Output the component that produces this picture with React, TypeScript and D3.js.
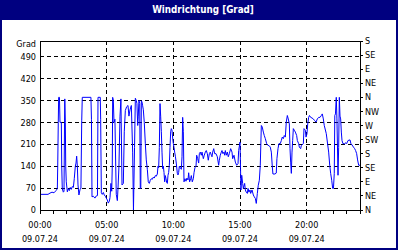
import React from 'react';
import * as d3 from 'd3';

// Wind direction readings: [hour of day, degrees]
const readings: [number, number][] = [
  [0, 50], [0.6, 50], [0.75, 54], [0.9, 57], [1.05, 55], [1.2, 62], [1.3, 68], [1.33, 140], [1.37, 280], [1.4, 360],
  [1.46, 360], [1.5, 280], [1.6, 280], [1.63, 140], [1.67, 68], [1.75, 57], [1.8, 60], [1.84, 280], [1.86, 355], [1.9, 280],
  [1.93, 140], [1.97, 90], [2.05, 58], [2.12, 68], [2.2, 62], [2.27, 72], [2.35, 66], [2.42, 75], [2.5, 72], [2.57, 100],
  [2.65, 140], [2.7, 150], [2.75, 172], [2.8, 140], [2.85, 80], [2.92, 48], [3.0, 65], [3.07, 70], [3.13, 285], [3.17, 360],
  [3.82, 360], [3.86, 290], [3.9, 42], [4.0, 44], [4.12, 38], [4.22, 45], [4.31, 46], [4.35, 360], [4.52, 360], [4.55, 290],
  [4.6, 55], [4.67, 50], [4.75, 56], [4.82, 48], [4.9, 44], [4.97, 38], [5.05, 32], [5.12, 22], [5.2, 28], [5.25, 40],
  [5.32, 85], [5.38, 60], [5.42, 140], [5.45, 360], [5.5, 350], [5.55, 280], [5.62, 290], [5.68, 140], [5.72, 50], [5.8, 30],
  [5.85, 69], [5.92, 138], [6.0, 300], [6.07, 355], [6.15, 80], [6.25, 85], [6.32, 250], [6.4, 318], [6.5, 330], [6.6, 334],
  [6.67, 300], [6.75, 320], [6.85, 334], [6.95, 185], [7.01, 0], [7.09, 200], [7.15, 357], [7.22, 350], [7.27, 340], [7.33, 270],
  [7.37, 300], [7.42, 350], [7.48, 340], [7.52, 69], [7.56, 69], [7.6, 349], [7.65, 345], [7.7, 333], [7.75, 320], [7.82, 280],
  [7.9, 212], [7.97, 160], [8.05, 130], [8.12, 90], [8.2, 85], [8.27, 95], [8.35, 100], [8.42, 98], [8.5, 105], [8.57, 102],
  [8.65, 110], [8.72, 108], [8.8, 115], [8.85, 140], [8.9, 135], [8.95, 200], [9.0, 340], [9.05, 300], [9.1, 250], [9.15, 185],
  [9.2, 132], [9.25, 140], [9.3, 120], [9.35, 90], [9.4, 110], [9.45, 100], [9.5, 88], [9.55, 85], [9.6, 111], [9.65, 120],
  [9.7, 143], [9.75, 200], [9.8, 250], [9.85, 260], [9.9, 255], [9.95, 230], [10.0, 212], [10.05, 200], [10.1, 185], [10.16, 170],
  [10.22, 150], [10.3, 117], [10.35, 112], [10.4, 120], [10.45, 140], [10.52, 135], [10.6, 130], [10.65, 170], [10.7, 296], [10.75, 250],
  [10.8, 90], [10.87, 100], [10.95, 92], [11.02, 102], [11.1, 96], [11.15, 119], [11.22, 90], [11.3, 100], [11.35, 110], [11.42, 90],
  [11.5, 100], [11.55, 119], [11.62, 135], [11.7, 140], [11.75, 175], [11.82, 165], [11.9, 150], [11.95, 180], [12.02, 185], [12.1, 175],
  [12.15, 185], [12.25, 164], [12.32, 175], [12.4, 185], [12.47, 190], [12.55, 180], [12.62, 159], [12.7, 180], [12.77, 185], [12.85, 175],
  [12.9, 170], [12.95, 185], [13.03, 196], [13.1, 180], [13.2, 180], [13.3, 170], [13.4, 143], [13.45, 159], [13.52, 175], [13.6, 185],
  [13.65, 190], [13.72, 180], [13.8, 185], [13.85, 175], [13.9, 190], [13.97, 175], [14.05, 185], [14.12, 170], [14.2, 180], [14.3, 196],
  [14.4, 185], [14.45, 164], [14.55, 175], [14.65, 153], [14.75, 143], [14.85, 148], [14.9, 190], [15.0, 217], [15.04, 132], [15.07, 64],
  [15.13, 111], [15.2, 85], [15.25, 69], [15.35, 85], [15.4, 64], [15.47, 57], [15.55, 53], [15.6, 69], [15.67, 57], [15.75, 64],
  [15.8, 53], [15.9, 64], [16.0, 48], [16.07, 42], [16.15, 37], [16.22, 21], [16.3, 53], [16.37, 79], [16.45, 95], [16.52, 143],
  [16.6, 270], [16.67, 265], [16.75, 249], [16.82, 238], [16.9, 228], [17.0, 212], [17.1, 206], [17.17, 206], [17.27, 201], [17.35, 185],
  [17.42, 140], [17.47, 115], [17.62, 115], [17.72, 118], [17.77, 164], [17.85, 196], [17.92, 212], [18.02, 212], [18.1, 222], [18.17, 233],
  [18.25, 228], [18.32, 238], [18.4, 233], [18.47, 281], [18.55, 302], [18.62, 291], [18.7, 275], [18.75, 196], [18.8, 153], [18.85, 117],
  [18.9, 185], [18.95, 222], [19.0, 260], [19.07, 255], [19.15, 249], [19.25, 238], [19.3, 222], [19.4, 212], [19.45, 201], [19.55, 196],
  [19.6, 206], [19.75, 212], [19.8, 260], [19.9, 255], [19.95, 233], [20.02, 243], [20.08, 275], [20.15, 296], [20.21, 302], [20.3, 296],
  [20.4, 294], [20.5, 291], [20.59, 286], [20.7, 281], [20.8, 291], [20.9, 296], [21.0, 296], [21.1, 302], [21.17, 307], [21.25, 291],
  [21.32, 270], [21.47, 244], [21.65, 185], [21.73, 143], [21.8, 117], [21.88, 95], [21.95, 69], [22.01, 69], [22.07, 117], [22.11, 302],
  [22.16, 307], [22.22, 360], [22.27, 291], [22.35, 111], [22.4, 200], [22.45, 360], [22.5, 300], [22.55, 291], [22.6, 249], [22.65, 222],
  [22.72, 212], [22.85, 212], [22.95, 215], [23.0, 212], [23.1, 222], [23.25, 224], [23.32, 212], [23.4, 208], [23.51, 201], [23.6, 196],
  [23.67, 190], [23.75, 180], [23.82, 160], [23.9, 143], [24.0, 143],
];

const gradTicks = [0, 70, 140, 210, 280, 350, 420, 490];
const compassLabels = ['N', 'NE', 'E', 'SE', 'S', 'SW', 'W', 'NW', 'N', 'NE', 'E', 'SE', 'S'];
const compassStep = 45;
const timeLabelHours = [0, 5, 10, 15, 20];
const timeLabels = ['00:00', '05:00', '10:00', '15:00', '20:00'];
const dateLabel = '09.07.24';
const hourTicks = d3.range(0, 25, 1);
const title = 'Windrichtung [Grad]';
const unitLabel = 'Grad';

const NAVY = '#000080';
const FONT = "'DejaVu Sans Condensed', 'DejaVu Sans', Verdana, sans-serif";

export default function App() {
  const W = 400;
  const H = 250;
  const left = 40, right = 360, top = 41, bottom = 210;
  const x = d3.scaleLinear().domain([0, 24]).range([left, right]);
  const y = d3.scaleLinear().domain([0, 540]).range([bottom, top]);
  const c = (v: number) => Math.floor(v) + 0.5;

  const line = d3.line<[number, number]>()
    .x(d => x(d[0]))
    .y(d => y(d[1]));

  const textStyle = { fontFamily: FONT, fontSize: 9, fontStretch: 'condensed' as const };

  return (
    <svg width={W} height={H} style={{ position: 'absolute', left: 0, top: 0, background: '#fff' }}>
      <rect x={0} y={0} width={W} height={H} fill="#fff" />
      {/* title band */}
      <rect x={0} y={0} width={398} height={20} fill={NAVY} />
      <rect x={1} y={1} width={396} height={248} fill="none" stroke={NAVY} strokeWidth={2} />
      <text x={203} y={13} textAnchor="middle" fill="#fff" fontWeight="bold"
        style={{ fontFamily: FONT, fontSize: 9.75, fontStretch: 'condensed' }}>{title}</text>

      {/* horizontal grid */}
      {gradTicks.filter(t => t > 0).map(t => (
        <line key={'hg' + t} x1={left} x2={right} y1={c(y(t))} y2={c(y(t))}
          stroke="#000" strokeDasharray="4,3" strokeWidth={1} />
      ))}
      {/* vertical grid */}
      {timeLabelHours.filter(h => h > 0).map(h => (
        <line key={'vg' + h} x1={c(x(h))} x2={c(x(h))} y1={top} y2={bottom}
          stroke="#000" strokeDasharray="4,3" strokeWidth={1} />
      ))}

      {/* data */}
      <path d={line(readings) || ''} fill="none" stroke="#0000ff" strokeWidth={1} strokeLinejoin="round" />

      {/* frame */}
      <line x1={left} x2={right + 1} y1={c(top)} y2={c(top)} stroke="#000" />
      <line x1={c(left)} x2={c(left)} y1={top} y2={bottom + 1} stroke="#000" />
      <line x1={c(right)} x2={c(right)} y1={top} y2={bottom + 1} stroke="#000" />
      <line x1={left} x2={right + 1} y1={c(bottom)} y2={c(bottom)} stroke="#000" />

      {/* bottom hour ticks */}
      {hourTicks.map(h => (
        <line key={'ht' + h} x1={c(x(h))} x2={c(x(h))} y1={bottom} y2={bottom + 4} stroke="#000" />
      ))}

      {/* left labels */}
      {gradTicks.map(t => (
        <text key={'gl' + t} x={36} y={y(t)} dy="0.35em" textAnchor="end" fill="#000" style={textStyle}>{t}</text>
      ))}
      <text x={36} y={y(540) + 3} dy="0.35em" textAnchor="end" fill="#000" style={textStyle}>{unitLabel}</text>

      {/* right compass ticks and labels */}
      {compassLabels.map((lab, i) => (
        <g key={'cl' + i}>
          <line x1={right} x2={right + 3} y1={c(y(i * compassStep))} y2={c(y(i * compassStep))} stroke="#000" />
          <text x={365} y={y(i * compassStep)} dy="0.35em" fill="#000" style={textStyle}>{lab}</text>
        </g>
      ))}

      {/* bottom labels */}
      {timeLabelHours.map((h, i) => (
        <g key={'tl' + h}>
          <text x={x(h)} y={228} textAnchor="middle" fill="#000" style={textStyle}>{timeLabels[i]}</text>
          <text x={x(h)} y={242} textAnchor="middle" fill="#000" style={textStyle}>{dateLabel}</text>
        </g>
      ))}
    </svg>
  );
}
